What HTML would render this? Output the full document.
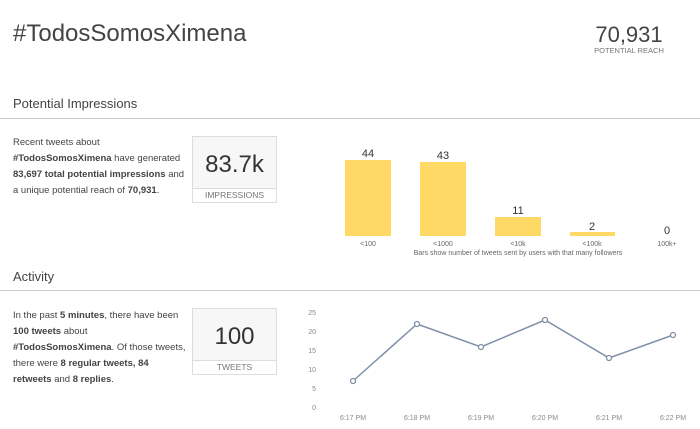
<!DOCTYPE html>
<html><head><meta charset="utf-8"><style>
body{margin:0;width:700px;height:429px;background:#fff;font-family:"Liberation Sans",sans-serif;color:#333;position:relative;overflow:hidden}
.a{position:absolute}
.p{font-size:9.5px;line-height:16px;color:#444;white-space:nowrap}
.box{position:absolute;border:1px solid #ddd;background:#f7f7f7;width:83px;height:65px}
.box .n{position:absolute;top:14px;width:100%;text-align:center;font-size:24px;color:#333}
.box .l{position:absolute;bottom:0;width:100%;height:13px;border-top:1px solid #ddd;background:#fff;text-align:center;font-size:8.5px;color:#777;line-height:13px}
.hr{position:absolute;left:0;width:700px;height:1px;background:#ccc}
</style></head><body>
<div class="a" style="left:13px;top:20px;font-size:24px;color:#444">#TodosSomosXimena</div>
<div class="a" style="left:590px;top:22px;width:78px;text-align:center;font-size:22px;color:#444">70,931</div>
<div class="a" style="left:588px;top:46px;width:82px;text-align:center;font-size:7.5px;color:#777">POTENTIAL REACH</div>
<div class="a" style="left:13px;top:96px;font-size:13px;color:#444">Potential Impressions</div>
<div class="hr" style="top:118px"></div>
<div class="a p" style="left:13px;top:135px">Recent tweets about<br><b>#TodosSomosXimena</b> have generated<br><b>83,697 total potential impressions</b> and<br>a unique potential reach of <b>70,931</b>.</div>
<div class="box" style="left:192px;top:136px"><div class="n">83.7k</div><div class="l">IMPRESSIONS</div></div>
<div class="a" style="left:13px;top:269px;font-size:13px;color:#444">Activity</div>
<div class="hr" style="top:290px"></div>
<div class="a p" style="left:13px;top:308px">In the past <b>5 minutes</b>, there have been<br><b>100 tweets</b> about<br><b>#TodosSomosXimena</b>. Of those tweets,<br>there were <b>8 regular tweets, 84</b><br><b>retweets</b> and <b>8 replies</b>.</div>
<div class="box" style="left:192px;top:308px"><div class="n">100</div><div class="l">TWEETS</div></div>
<svg class="a" style="left:0;top:0" width="700" height="429">
<g fill="#ffd966">
<rect x="345" y="160" width="46" height="76"/><rect x="420" y="162" width="46" height="74"/>
<rect x="495" y="217" width="46" height="19"/><rect x="570" y="232" width="45" height="4"/>
</g>
<g font-size="11" fill="#333" text-anchor="middle">
<text x="368" y="157">44</text><text x="443" y="159">43</text><text x="518" y="214">11</text><text x="592" y="230">2</text><text x="667" y="234">0</text>
</g>
<g font-size="7" fill="#666" text-anchor="middle">
<text x="368" y="246">&lt;100</text><text x="443" y="246">&lt;1000</text><text x="518" y="246">&lt;10k</text><text x="592" y="246">&lt;100k</text><text x="667" y="246">100k+</text>
<text x="518" y="255">Bars show number of tweets sent by users with that many followers</text>
</g>
<g font-size="7" fill="#888" text-anchor="end">
<text x="316" y="315">25</text><text x="316" y="334">20</text><text x="316" y="353">15</text><text x="316" y="372">10</text><text x="316" y="391">5</text><text x="316" y="410">0</text>
</g>
<g font-size="7" fill="#888" text-anchor="middle">
<text x="353" y="420">6:17 PM</text><text x="417" y="420">6:18 PM</text><text x="481" y="420">6:19 PM</text><text x="545" y="420">6:20 PM</text><text x="609" y="420">6:21 PM</text><text x="673" y="420">6:22 PM</text>
</g>
<polyline fill="none" stroke="#8090a8" stroke-width="1.5" points="353,381 417,324 481,347 545,320 609,358 673,335"/>
<g fill="#fff" stroke="#8090a8" stroke-width="1.3">
<circle cx="353" cy="381" r="2.5"/><circle cx="417" cy="324" r="2.5"/><circle cx="481" cy="347" r="2.5"/><circle cx="545" cy="320" r="2.5"/><circle cx="609" cy="358" r="2.5"/><circle cx="673" cy="335" r="2.5"/>
</g>
</svg>
</body></html>
